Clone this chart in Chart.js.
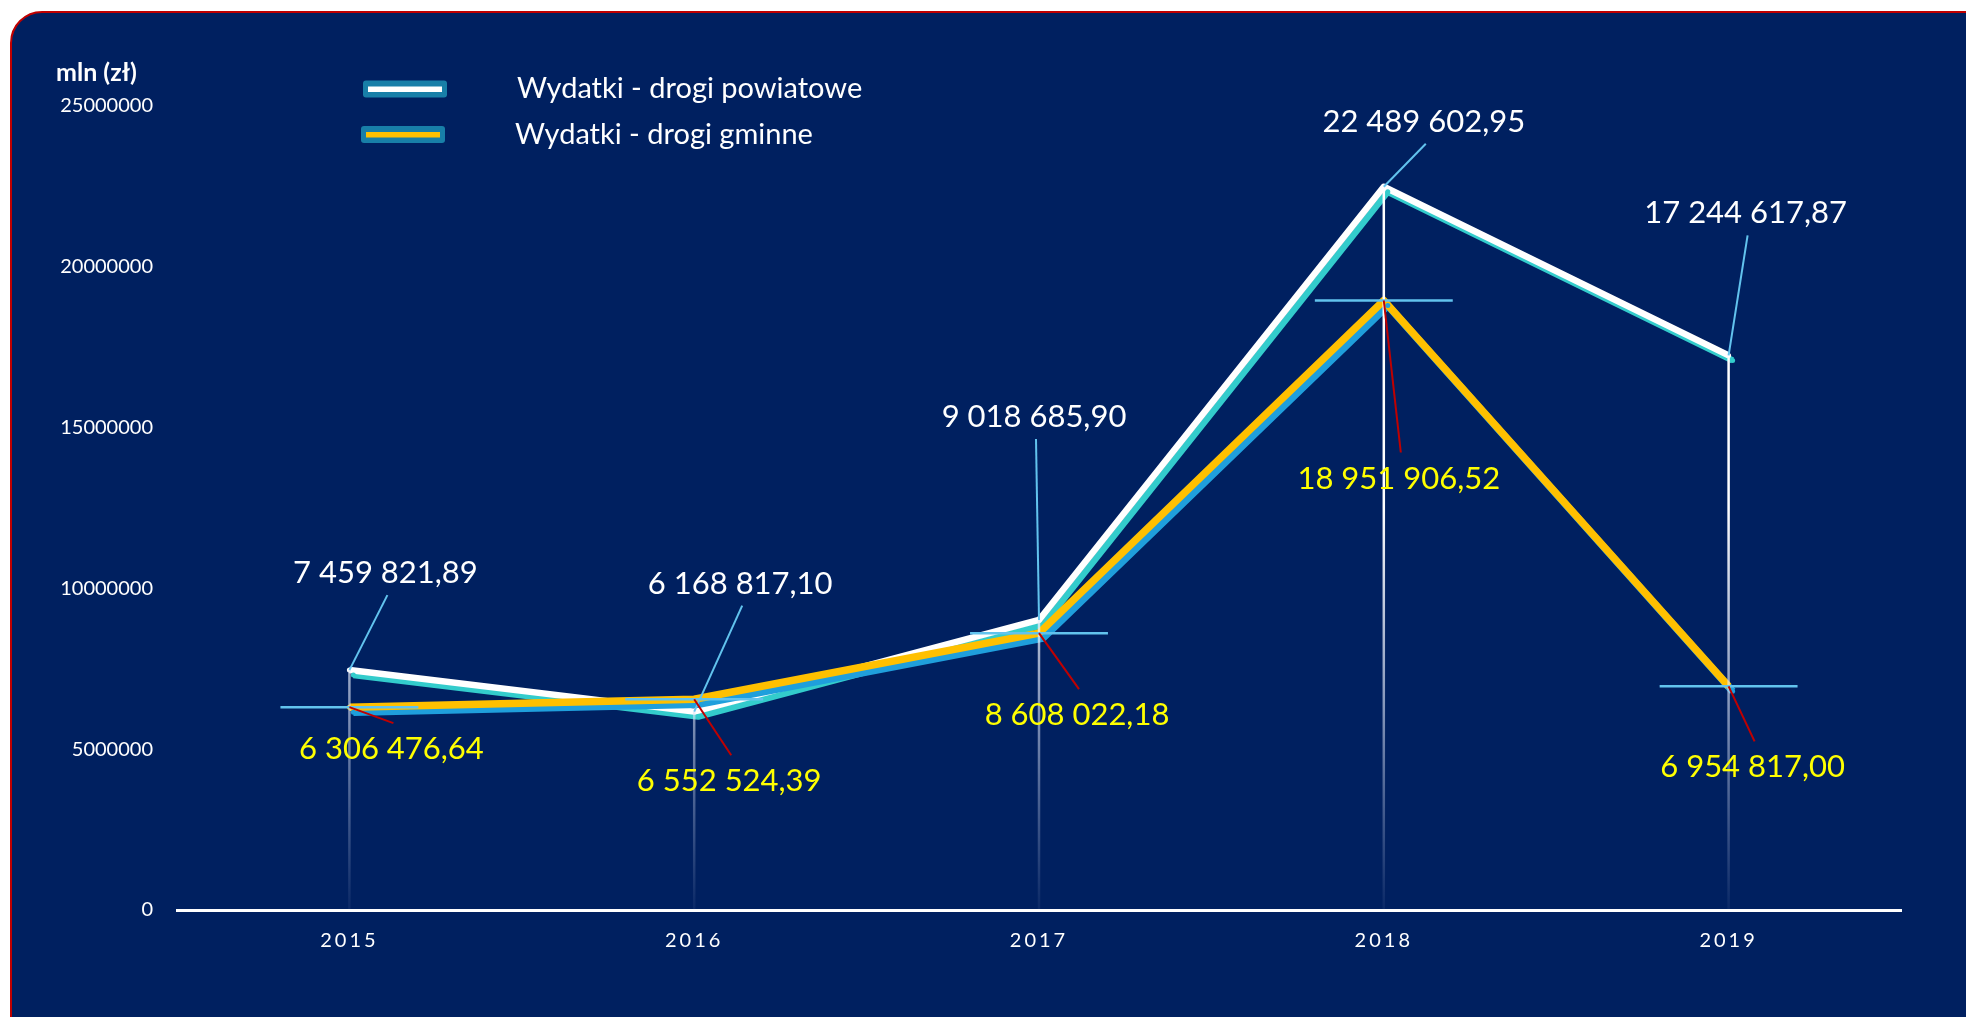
<!DOCTYPE html>
<html>
<head>
<meta charset="utf-8">
<title>Wydatki na drogi</title>
<script src="https://cdn.jsdelivr.net/npm/chart.js@4.4.0/dist/chart.umd.min.js"></script>
<style>
  html, body { margin: 0; padding: 0; background: #ffffff; overflow: hidden; }
  #frame {
    position: absolute; left: 10px; top: 11px; width: 2000px; height: 1040px;
    background: #002060; border: 2px solid #c00000; border-radius: 32px;
  }
  #wrap { position: absolute; left: 0; top: 0; width: 1966px; height: 1017px; }
</style>
</head>
<body>
<div id="frame"></div>
<div id="wrap"><canvas id="lineChart"></canvas></div>
<script>
const years = ['2015', '2016', '2017', '2018', '2019'];
const powiatowe = [7459821.89, 6168817.10, 9018685.90, 22489602.95, 17244617.87];
const gminne = [6306476.64, 6552524.39, 8608022.18, 18951906.52, 6954817.00];
const seriesNames = ['Wydatki - drogi powiatowe', 'Wydatki - drogi gminne'];
const yTicks = [0, 5000000, 10000000, 15000000, 20000000, 25000000];
const yTitle = 'mln (zł)';

// where each value label sits, relative to its point (px)
const powLabelOffset = [[36, -97], [46, -128], [-5, -203], [40, -65], [17, -142]];
const gmLabelOffset = [[42, 42], [35, 82], [38, 82], [15, 178], [24, 81]];

const lineColors = ['#ffffff', '#ffc000'];
const shadowColors = ['#33cccc', '#1f9fdc'];
const labelColors = ['#ffffff', '#ffff00'];
const leaderColors = ['#62c3ee', '#c00000'];

Chart.defaults.font.family = 'Lato, "Open Sans", sans-serif';
Chart.defaults.color = '#ffffff';

function plFormat(v) {
  const parts = v.toFixed(2).split('.');
  return parts[0].replace(/\B(?=(\d{3})+(?!\d))/g, ' ') + ',' + parts[1];
}

// category axis with letter-spaced labels
class SpacedCategory extends Chart.CategoryScale {
  drawLabels(area) {
    this.ctx.save();
    this.ctx.letterSpacing = '3px';
    super.drawLabels(area);
    this.ctx.restore();
  }
}
SpacedCategory.id = 'spacedCategory';
SpacedCategory.defaults = Chart.CategoryScale.defaults;
Chart.register(SpacedCategory);

const lineShadow = {
  id: 'lineShadow',
  beforeDatasetDraw(chart, args) {
    const ctx = chart.ctx;
    ctx.save();
    ctx.shadowColor = shadowColors[args.index];
    ctx.shadowOffsetX = 4;
    ctx.shadowOffsetY = 5;
    ctx.shadowBlur = 0;
  },
  afterDatasetDraw(chart) {
    chart.ctx.restore();
  }
};

const decor = {
  id: 'decor',
  afterDatasetsDraw(chart) {
    const { ctx, chartArea, scales: { x } } = chart;
    const m0 = chart.getDatasetMeta(0);
    const m1 = chart.getDatasetMeta(1);
    ctx.save();

    // drop lines
    const grad = ctx.createLinearGradient(0, chartArea.top, 0, chartArea.bottom);
    grad.addColorStop(0, 'rgba(255,255,255,1)');
    grad.addColorStop(0.5, 'rgba(255,255,255,1)');
    grad.addColorStop(0.75, 'rgba(220,228,245,0.6)');
    grad.addColorStop(1, 'rgba(200,210,235,0.05)');
    ctx.strokeStyle = grad;
    ctx.lineWidth = 2.5;
    m0.data.forEach(pt => {
      ctx.beginPath();
      ctx.moveTo(pt.x, pt.y);
      ctx.lineTo(pt.x, chartArea.bottom);
      ctx.stroke();
    });

    // horizontal error bars on second series
    const half = 0.2 * (x.getPixelForValue(1) - x.getPixelForValue(0));
    ctx.strokeStyle = '#62c3ee';
    ctx.lineWidth = 2.5;
    m1.data.forEach(pt => {
      ctx.beginPath();
      ctx.moveTo(pt.x - half, pt.y);
      ctx.lineTo(pt.x + half, pt.y);
      ctx.stroke();
    });

    // leader lines and value labels
    const sets = [
      { meta: m0, values: powiatowe, off: powLabelOffset, lead: 22 },
      { meta: m1, values: gminne, off: gmLabelOffset, lead: -26 }
    ];
    sets.forEach((s, si) => {
      s.meta.data.forEach((pt, i) => {
        const lx = pt.x + s.off[i][0];
        const ly = pt.y + s.off[i][1];
        ctx.strokeStyle = leaderColors[si];
        ctx.lineWidth = 2;
        ctx.beginPath();
        ctx.moveTo(pt.x, pt.y);
        ctx.lineTo(lx + 2, ly + s.lead);
        ctx.stroke();
        ctx.fillStyle = labelColors[si];
        ctx.font = '31px Lato, "Open Sans", sans-serif';
        ctx.textAlign = 'center';
        ctx.textBaseline = 'middle';
        ctx.fillText(plFormat(s.values[i]), lx, ly);
      });
    });
    ctx.restore();
  },
  afterDraw(chart) {
    const ctx = chart.ctx;
    ctx.save();
    // axis title
    ctx.fillStyle = '#ffffff';
    ctx.font = 'bold 25px Lato, "Open Sans", sans-serif';
    ctx.textAlign = 'left';
    ctx.textBaseline = 'middle';
    ctx.fillText(yTitle, 56, 73);

    // legend
    const rows = [{ x: 363, y: 89, tx: 517 }, { x: 361, y: 134.5, tx: 515 }];
    chart.data.datasets.forEach((ds, i) => {
      const r = rows[i];
      ctx.fillStyle = '#187fa8';
      ctx.beginPath();
      ctx.roundRect(r.x, r.y - 8.5, 84, 17, 3);
      ctx.fill();
      ctx.fillStyle = ds.borderColor;
      ctx.fillRect(r.x + 5, r.y - 2.5, 74, 5.5);
      ctx.fillStyle = '#ffffff';
      ctx.font = '29px Lato, "Open Sans", sans-serif';
      ctx.textBaseline = 'middle';
      ctx.fillText(ds.label, r.tx, r.y);
    });
    ctx.restore();
  }
};

const ctx = document.getElementById('lineChart').getContext('2d');

new Chart(ctx, {
  type: 'line',
  data: {
    labels: years,
    datasets: [
      {
        label: seriesNames[0],
        data: powiatowe,
        borderColor: lineColors[0],
        backgroundColor: lineColors[0],
        borderWidth: 6.5,
        borderJoinStyle: 'round',
        pointRadius: 2.5,
        pointBorderWidth: 0,
        pointBackgroundColor: lineColors[0],
        tension: 0,
        order: 2
      },
      {
        label: seriesNames[1],
        data: gminne,
        borderColor: lineColors[1],
        backgroundColor: lineColors[1],
        borderWidth: 7.5,
        borderJoinStyle: 'round',
        pointRadius: 2.5,
        pointBorderWidth: 0,
        pointBackgroundColor: lineColors[1],
        tension: 0,
        order: 1
      }
    ]
  },
  options: {
    responsive: true,
    maintainAspectRatio: false,
    animation: false,
    layout: { padding: { top: 106, right: 65, left: 0, bottom: 0 } },
    plugins: {
      legend: { display: false },
      tooltip: { enabled: false }
    },
    scales: {
      x: {
        type: 'spacedCategory',
        offset: true,
        grid: { display: false, drawTicks: false },
        border: { display: true, color: '#ffffff', width: 3 },
        ticks: { color: '#ffffff', padding: 19, font: { size: 20 } },
        afterFit(scale) { scale.height = 107; }
      },
      y: {
        min: yTicks[0],
        max: yTicks[yTicks.length - 1],
        grid: { display: false, drawTicks: false },
        border: { display: false },
        ticks: {
          stepSize: yTicks[1] - yTicks[0],
          color: '#ffffff',
          padding: 24,
          font: { size: 20 },
          callback: v => String(v)
        },
        afterFit(scale) { scale.width = 177; }
      }
    }
  },
  plugins: [lineShadow, decor]
});
</script>
</body>
</html>
